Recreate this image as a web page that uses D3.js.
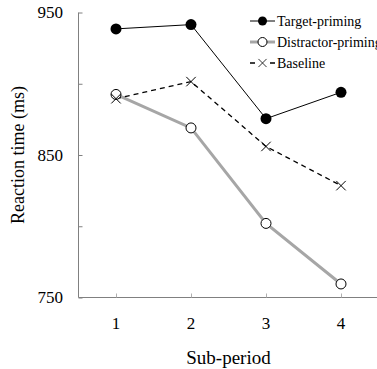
<!DOCTYPE html>
<html>
<head>
<meta charset="utf-8">
<script src="https://cdn.jsdelivr.net/npm/d3@7"></script>
<style>
  body { margin: 0; background: #fff; }
</style>
</head>
<body>
<div id="chart"></div>
<script>
// data
const periods = [1, 2, 3, 4];
const targetPriming = [938.5, 941.5, 875.5, 894];
const distractorPriming = [892.5, 869, 802, 759.5];
const baseline = [889.5, 901.5, 856, 828.5];
const yTicks = [750, 800, 850, 900, 950];
const yTickLabels = ["750", "", "850", "", "950"];

const FONT = '"Liberation Serif", "DejaVu Serif", serif';
const W = 377, H = 369;
const svg = d3.select('#chart').append('svg')
    .attr('width', W).attr('height', H)
    .attr('font-family', FONT);

// scales
const x = d3.scaleLinear().domain([0.5, 4.5]).range([78.5, 378.5]);
const y = d3.scaleLinear().domain([750, 950]).range([297.5, 12.5]);

// y axis
const yAxis = d3.axisRight(y).tickValues(yTicks).tickSize(4).tickFormat('');
const gy = svg.append('g').attr('transform', 'translate(78.5,0)').call(yAxis);
gy.select('.domain').attr('stroke', '#808080').attr('d', 'M0,' + y(950) + 'V' + y(750));
gy.selectAll('.tick line').attr('stroke', '#808080');

svg.selectAll('.ylab')
    .data(yTicks)
    .enter().append('text')
    .attr('class', 'ylab')
    .attr('x', 63)
    .attr('y', d => y(d))
    .attr('dy', '0.35em')
    .attr('text-anchor', 'end')
    .attr('font-family', FONT)
    .attr('font-size', 17)
    .text((d, i) => yTickLabels[i]);

// x axis
const xAxis = d3.axisTop(x).tickValues(periods).tickSize(4).tickFormat('');
const gx = svg.append('g').attr('transform', 'translate(0,297.5)').call(xAxis);
gx.select('.domain').attr('stroke', '#808080').attr('d', 'M78.5,0H377');
gx.selectAll('.tick line').attr('stroke', '#b0b0b0');

svg.selectAll('.xlab')
    .data(periods)
    .enter().append('text')
    .attr('class', 'xlab')
    .attr('x', d => x(d))
    .attr('y', 329)
    .attr('text-anchor', 'middle')
    .attr('font-family', FONT)
    .attr('font-size', 17)
    .text(d => d);

// axis titles
svg.append('text')
    .attr('x', x(2.5)).attr('y', 364)
    .attr('text-anchor', 'middle')
    .attr('font-family', FONT)
    .attr('font-size', 19)
    .text('Sub-period');

svg.append('text')
    .attr('transform', 'translate(24,' + y(850) + ') rotate(-90)')
    .attr('text-anchor', 'middle')
    .attr('font-family', FONT)
    .attr('font-size', 18)
    .text('Reaction time (ms)');

const line = d3.line().x((d, i) => x(periods[i])).y(d => y(d));

// distractor-priming (grey thick, open circles)
svg.append('path').datum(distractorPriming)
    .attr('d', line).attr('fill', 'none')
    .attr('stroke', '#a6a6a6').attr('stroke-width', 3);

// baseline (dashed, crosses)
svg.append('path').datum(baseline)
    .attr('d', line).attr('fill', 'none')
    .attr('stroke', '#000').attr('stroke-width', 1.3)
    .attr('stroke-dasharray', '5,4');

// target-priming (thin black, filled circles)
svg.append('path').datum(targetPriming)
    .attr('d', line).attr('fill', 'none')
    .attr('stroke', '#000').attr('stroke-width', 1);

svg.selectAll('.dp').data(distractorPriming).enter().append('circle')
    .attr('cx', (d, i) => x(periods[i])).attr('cy', d => y(d))
    .attr('r', 5).attr('fill', '#fff').attr('stroke', '#000').attr('stroke-width', 1);

const cross = d3.symbol().type(d3.symbolX).size(60);
svg.selectAll('.bl').data(baseline).enter().append('path')
    .attr('transform', (d, i) => 'translate(' + x(periods[i]) + ',' + y(d) + ')')
    .attr('d', cross).attr('fill', 'none').attr('stroke', '#000').attr('stroke-width', 1);

svg.selectAll('.tp').data(targetPriming).enter().append('circle')
    .attr('cx', (d, i) => x(periods[i])).attr('cy', d => y(d))
    .attr('r', 5.5).attr('fill', '#000');

// legend
const legend = svg.append('g');
const items = [
    { name: 'Target-priming', y: 21 },
    { name: 'Distractor-priming', y: 42 },
    { name: 'Baseline', y: 63 }
];
// target
legend.append('line').attr('x1', 250).attr('x2', 275).attr('y1', 21).attr('y2', 21)
    .attr('stroke', '#000').attr('stroke-width', 1);
legend.append('circle').attr('cx', 262.5).attr('cy', 21).attr('r', 4.5).attr('fill', '#000');
// distractor
legend.append('line').attr('x1', 250).attr('x2', 275).attr('y1', 42).attr('y2', 42)
    .attr('stroke', '#a6a6a6').attr('stroke-width', 3);
legend.append('circle').attr('cx', 262.5).attr('cy', 42).attr('r', 4.5)
    .attr('fill', '#fff').attr('stroke', '#000').attr('stroke-width', 1);
// baseline
legend.append('line').attr('x1', 250).attr('x2', 275).attr('y1', 63).attr('y2', 63)
    .attr('stroke', '#000').attr('stroke-width', 1.3).attr('stroke-dasharray', '5,15');
legend.append('path').attr('transform', 'translate(262.5,63)')
    .attr('d', d3.symbol().type(d3.symbolX).size(45))
    .attr('fill', 'none').attr('stroke', '#000').attr('stroke-width', 0.8);

legend.selectAll('text').data(items).enter().append('text')
    .attr('x', 277).attr('y', d => d.y).attr('dy', '0.35em')
    .attr('font-family', FONT)
    .attr('font-size', 14)
    .text(d => d.name);
</script>
</body>
</html>
